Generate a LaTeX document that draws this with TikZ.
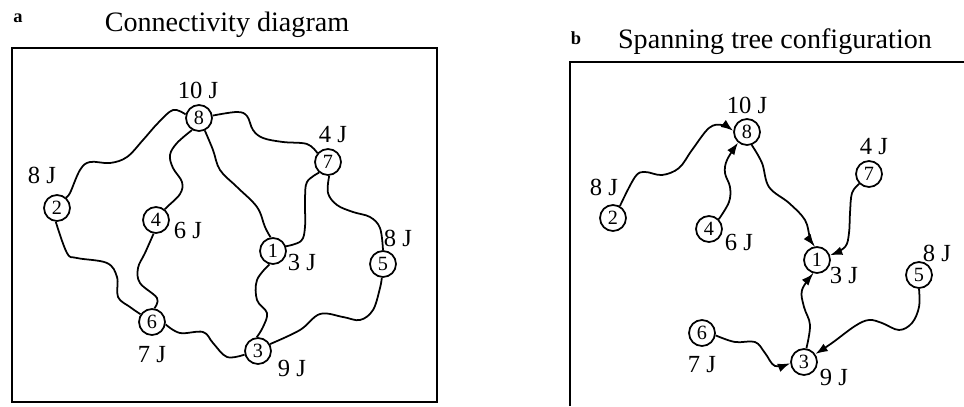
\documentclass[tikz,border=0pt]{standalone}
\usepackage{fontspec}
\setmainfont{Liberation Serif}
\usetikzlibrary{arrows.meta}

\begin{document}
\begin{tikzpicture}[
    x=0.02cm, y=-0.02cm,
    site/.style={draw, circle, line width=1pt, minimum size=5.2mm, inner sep=0pt, font=\fontsize{11.5}{11.5}\selectfont},
    energy/.style={inner sep=0pt, font=\fontsize{14}{14}\selectfont},
    title/.style={inner sep=0pt, font=\fontsize{16}{16}\selectfont},
    panel/.style={inner sep=0pt, font=\bfseries\fontsize{10.5}{10.5}\selectfont},
    link/.style={line width=1pt},
    flow/.style={link, -{Latex[length=7pt,width=5pt]}}
]
\useasboundingbox (0,0) rectangle (964,406);

% panel a: connectivity diagram
\node[panel] (pa) at (18,18) {a};
\node[title] (ta) at (227,25) {Connectivity diagram};
\draw[line width=1.2pt] (12,48) rectangle (437,402);

\node[site] (a8) at (199,118) {8};
\node[site] (a7) at (328,162) {7};
\node[site] (a2) at (57,208) {2};
\node[site] (a4) at (156,220) {4};
\node[site] (a1) at (273,251) {1};
\node[site] (a5) at (383,264) {5};
\node[site] (a6) at (152,322) {6};
\node[site] (a3) at (258,351) {3};

\node[energy] (ea8) at (198,90) {10 J};
\node[energy] (ea7) at (333,135) {4 J};
\node[energy] (ea2) at (42,175) {8 J};
\node[energy] (ea4) at (188,230) {6 J};
\node[energy] (ea1) at (302,262) {3 J};
\node[energy] (ea5) at (398,238) {8 J};
\node[energy] (ea6) at (152,355) {7 J};
\node[energy] (ea3) at (292,368) {9 J};

\draw[link] plot[smooth, tension=0.6] coordinates {(a8.165) (173,110) (158,123) (143,140) (127,157) (110,163) (90,162) (80,170) (70,193) (a2.50)};
\draw[link] plot[smooth, tension=0.6] coordinates {(a8.10) (237,112) (247,116) (253,130) (263,138) (283,142) (307,144) (a7.140)};
\draw[link] plot[smooth, tension=0.6] coordinates {(a8.240) (177,143) (170,155) (173,168) (182,182) (180,194) (167,207) (a4.50)};
\draw[link] plot[smooth, tension=0.6] coordinates {(a8.295) (213,150) (220,170) (237,187) (257,207) (265,227) (a1.100)};
\draw[link] plot[smooth, tension=0.6] coordinates {(a7.230) (307,182) (305,200) (305,227) (301,241) (a1.20)};
\draw[link] plot[smooth, tension=0.6] coordinates {(a7.275) (328,193) (337,205) (353,212) (370,217) (380,228) (a5.90)};
\draw[link] plot[smooth, tension=0.6] coordinates {(a2.265) (67,253) (77,258) (107,263) (117,277) (118,297) (130,307) (a6.146)};
\draw[link] plot[smooth, tension=0.6] coordinates {(a4.260) (145,253) (138,268) (140,283) (157,298) (a6.80)};
\draw[link] plot[smooth, tension=0.6] coordinates {(a6.-10) (180,333) (203,332) (213,343) (227,357) (a3.195)};
\draw[link] plot[smooth, tension=0.6] coordinates {(a1.255) (257,280) (257,300) (267,313) (263,327) (a3.95)};
\draw[link] plot[smooth, tension=0.6] coordinates {(a3.30) (300,330) (320,314) (343,317) (360,320) (373,310) (380,288) (a5.265)};

% panel b: spanning tree configuration
\node[panel] (pb) at (576,38) {b};
\node[title] (tb) at (775,42) {Spanning tree configuration};
\draw[line width=1.2pt] (570,406) -- (570,62) -- (964,62);

\node[site] (b8) at (747,132) {8};
\node[site] (b7) at (869,174) {7};
\node[site] (b2) at (613,218) {2};
\node[site] (b4) at (709,229) {4};
\node[site] (b1) at (817,260) {1};
\node[site] (b5) at (919,275) {5};
\node[site] (b6) at (702,333) {6};
\node[site] (b3) at (804,362) {3};

\node[energy] (eb8) at (747,105) {10 J};
\node[energy] (eb7) at (874,147) {4 J};
\node[energy] (eb2) at (604,187) {8 J};
\node[energy] (eb4) at (739,242) {6 J};
\node[energy] (eb1) at (844,275) {3 J};
\node[energy] (eb5) at (937,253) {8 J};
\node[energy] (eb6) at (702,365) {7 J};
\node[energy] (eb3) at (834,377) {9 J};

\draw[flow] plot[smooth, tension=0.6] coordinates {(b2.60) (635,177) (645,172) (662,175) (679,168) (692,150) (709,128) (722,125) (b8.175)};
\draw[flow] plot[smooth, tension=0.6] coordinates {(b4.45) (729,202) (730,187) (725,173) (727,160) (b8.230)};
\draw[flow] plot[smooth, tension=0.6] coordinates {(b8.290) (762,163) (769,187) (789,203) (805,220) (810,238) (b1.100)};
\draw[flow] plot[smooth, tension=0.6] coordinates {(b7.225) (852,193) (850,213) (849,233) (845,247) (b1.20)};
\draw[flow] plot[smooth, tension=0.6] coordinates {(b3.80) (810,325) (804,307) (802,290) (b1.255)};
\draw[flow] plot[smooth, tension=0.6] coordinates {(b5.270) (919,307) (912,323) (899,330) (882,323) (869,320) (855,326) (832,343) (b3.35)};
\draw[flow] plot[smooth, tension=0.6] coordinates {(b6.-10) (735,342) (755,342) (765,353) (775,366) (b3.185)};
\end{tikzpicture}
\end{document}
